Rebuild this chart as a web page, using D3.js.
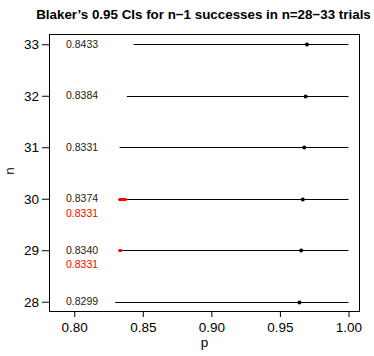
<!DOCTYPE html>
<html>
<head>
<meta charset="utf-8">
<script src="https://cdn.jsdelivr.net/npm/d3@7"></script>
<style>
  html, body { margin: 0; padding: 0; background: #fff; }
  svg { display: block; font-family: "Liberation Sans", Arial, Helvetica, sans-serif; }
</style>
</head>
<body>
<div id="chart"></div>
<script>
// Blaker's 0.95 confidence intervals for n-1 successes in n trials
const trials = [28, 29, 30, 31, 32, 33];
const lowerBounds = [0.8299, 0.8340, 0.8374, 0.8331, 0.8384, 0.8433];
const upperBounds = [1, 1, 1, 1, 1, 1];
// Rows where the bound is not monotone: the bound it should not exceed
const flaggedTrials = [29, 30];
const flaggedBounds = [0.8331, 0.8331];
const xTicks = [0.80, 0.85, 0.90, 0.95, 1.00];
const yTicks = [28, 29, 30, 31, 32, 33];

const W = 374, H = 356;
const box = { left: 49, right: 360, top: 34, bottom: 312 };

const svg = d3.select("#chart").append("svg")
  .attr("width", W).attr("height", H);

// R-style 4% padding around xlim = c(0.79, 1) and the trial range
const xLim = [0.79, 1.0], xPad = (xLim[1] - xLim[0]) * 0.04;
const x = d3.scaleLinear()
  .domain([xLim[0] - xPad, xLim[1] + xPad])
  .range([box.left, box.right]);
const yPad = (d3.max(trials) - d3.min(trials)) * 0.04;
const y = d3.scaleLinear()
  .domain([d3.min(trials) - yPad, d3.max(trials) + yPad])
  .range([box.bottom, box.top]);

// Title, sized so it spans about 335px centred over the plot
const title = svg.append("text")
  .attr("x", (box.left + box.right) / 2 - 1).attr("y", 18.5)
  .attr("text-anchor", "middle")
  .attr("font-weight", "bold").attr("font-size", 13)
  .text("Blaker\u2019s 0.95 CIs for n\u22121 successes in n=28\u221233 trials");
const tw = title.node().getComputedTextLength();
title.attr("font-size", 13 * 335 / tw);

// Interval segments
const rows = trials.map((n, i) => ({ n, lo: lowerBounds[i], hi: upperBounds[i] }));
svg.append("g").selectAll("line").data(rows).join("line")
  .attr("x1", d => x(d.lo)).attr("x2", d => x(d.hi))
  .attr("y1", d => Math.round(y(d.n)) + 0.5).attr("y2", d => Math.round(y(d.n)) + 0.5)
  .attr("stroke", "#000").attr("stroke-width", 1);

// Non-monotone excess, highlighted in red
const flags = flaggedTrials.map((n, i) => ({ n, from: flaggedBounds[i], to: lowerBounds[trials.indexOf(n)] }));
svg.append("g").selectAll("line").data(flags).join("line")
  .attr("x1", d => x(d.from)).attr("x2", d => x(d.to))
  .attr("y1", d => Math.round(y(d.n)) + 0.5).attr("y2", d => Math.round(y(d.n)) + 0.5)
  .attr("stroke", "#ff0000").attr("stroke-width", 3).attr("stroke-linecap", "round");

// Point estimates (n-1)/n
svg.append("g").selectAll("circle").data(rows).join("circle")
  .attr("cx", d => x((d.n - 1) / d.n)).attr("cy", d => Math.round(y(d.n)) + 0.5)
  .attr("r", 2).attr("fill", "#000");

// Lower-bound labels
const labelX = 66;
svg.append("g").selectAll("text").data(rows).join("text")
  .attr("x", labelX).attr("y", d => y(d.n)).attr("dy", "0.35em")
  .attr("font-size", 10.5).attr("fill", "#222")
  .text(d => d.lo.toFixed(4));
svg.append("g").selectAll("text").data(flags).join("text")
  .attr("x", labelX).attr("y", d => y(d.n) + 14.5).attr("dy", "0.35em")
  .attr("font-size", 10.5).attr("fill", "#ff0000")
  .text(d => d.from.toFixed(4));

// Axes
const xAxis = d3.axisBottom(x).tickValues(xTicks).tickFormat(d3.format(".2f"))
  .tickSize(5).tickPadding(5);
const gx = svg.append("g").attr("transform", `translate(0,${box.bottom})`).call(xAxis);
gx.select(".domain").remove();
gx.selectAll("text").attr("font-size", 13.5).attr("fill", "#000").attr("font-family", "Liberation Sans, Arial, sans-serif");
gx.selectAll("line").attr("stroke", "#000");

const yAxis = d3.axisLeft(y).tickValues(yTicks).tickFormat(d3.format("d"))
  .tickSize(7).tickPadding(3);
const gy = svg.append("g").attr("transform", `translate(${box.left},0)`).call(yAxis);
gy.select(".domain").remove();
gy.selectAll("text").attr("font-size", 13.5).attr("fill", "#000").attr("font-family", "Liberation Sans, Arial, sans-serif");
gy.selectAll("line").attr("stroke", "#000");

// Plot frame
svg.append("rect")
  .attr("x", box.left + 0.5).attr("y", box.top + 0.5)
  .attr("width", box.right - box.left - 1).attr("height", box.bottom - box.top - 1)
  .attr("fill", "none").attr("stroke", "#000").attr("stroke-width", 1);

// Axis titles
svg.append("text")
  .attr("x", (box.left + box.right) / 2).attr("y", 347)
  .attr("text-anchor", "middle").attr("font-size", 13.5)
  .text("p");
svg.append("text")
  .attr("transform", `translate(14,${(box.top + box.bottom) / 2 - 2}) rotate(-90)`)
  .attr("text-anchor", "middle").attr("font-size", 13.5)
  .text("n");
</script>
</body>
</html>
